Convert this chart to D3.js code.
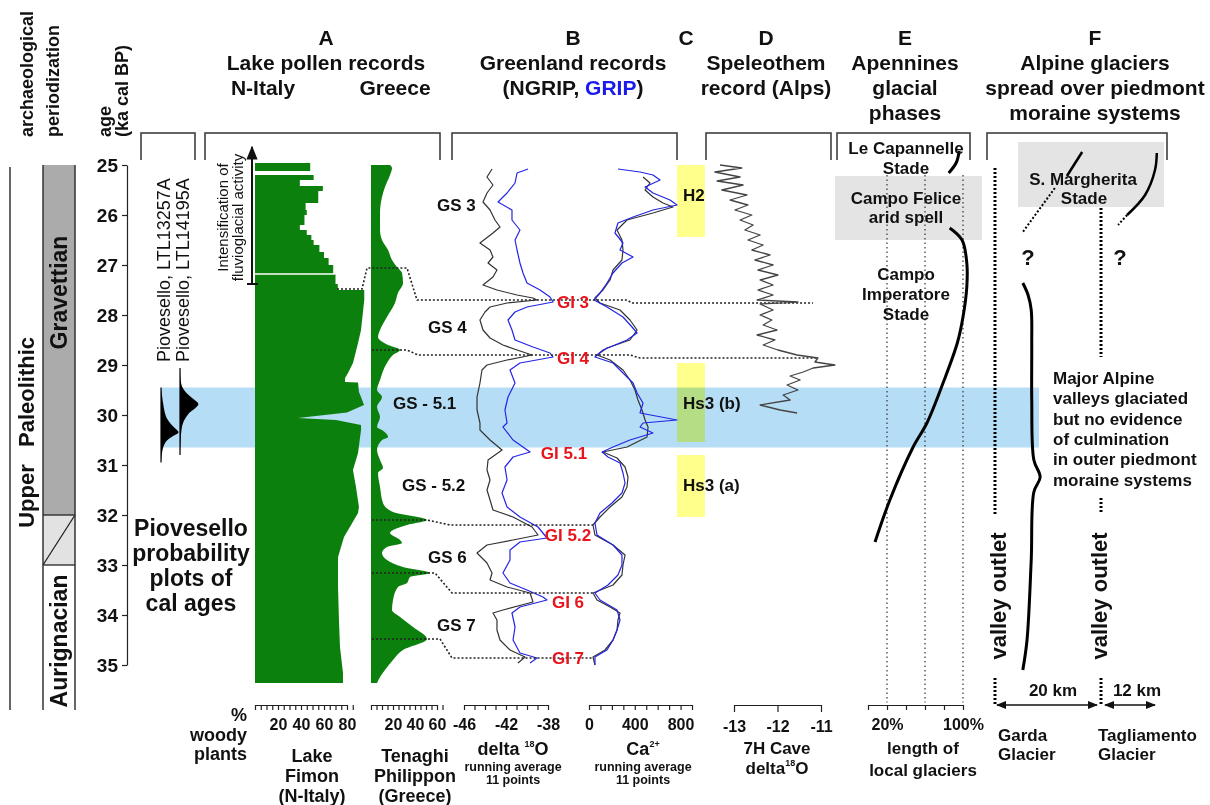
<!DOCTYPE html>
<html>
<head>
<meta charset="utf-8">
<title>Gravettian glaciers and climate records</title>
<script src="https://cdn.jsdelivr.net/npm/d3@7/dist/d3.min.js"></script>
<style>
  body { margin: 0; background: #fff; }
  svg { display: block; font-family: 'Liberation Sans', Arial, sans-serif; font-weight: bold; }
  .axis path, .axis line { stroke: #222; stroke-width: 1.2; }
  .axis text { font-family: 'Liberation Sans', Arial, sans-serif; font-size: 16px; font-weight: bold; fill: #111; }
</style>
</head>
<body>
<svg id="chart" width="1210" height="805"></svg>
<script>
'use strict';

// ---------- data (age in ka cal BP first) ----------
var ageTicks = [25, 26, 27, 28, 29, 30, 31, 32, 33, 34, 35];

// Lake Fimon % woody plants: stepped part, then continuous part
var fimonBars = [[24.96, 48], [25.12, 0], [25.2, 51], [25.3, 39], [25.42, 59], [25.52, 55], [25.76, 44],
    [25.9, 45], [26.0, 43], [26.2, 39], [26.3, 45], [26.4, 49], [26.5, 51], [26.6, 56], [26.74, 60],
    [26.86, 64], [27.0, 68], [27.18, 70], [27.38, 72]];
var fimonCurve = [[27.5, 95], [27.7, 95], [28.3, 92.2], [28.56, 89.6], [28.96, 85.2], [29.16, 80.9],
    [29.26, 78.3], [29.34, 78.3], [29.35, 89.6], [29.54, 90.4], [29.64, 92.2], [29.8, 94.8], [29.95, 80],
    [30.06, 37.4], [30.1, 70.4], [30.2, 92.2], [30.3, 92.2], [30.76, 89.6], [31.1, 85.2], [31.44, 87.8],
    [31.84, 90.4], [31.96, 89.6], [32.44, 77.4], [32.84, 72.2], [33.44, 72.2], [34.1, 73], [34.64, 73.9],
    [35.16, 76.5], [35.36, 76.5]];

// Tenaghi Philippon % woody plants
var tenaghi = [[25.0, 17.3], [25.06, 19.1], [25.2, 17.3], [25.44, 12.7], [25.64, 10], [25.96, 8.2],
    [26.3, 8.2], [26.5, 10], [26.7, 15.5], [26.9, 19.1], [27.04, 23.6], [27.16, 28.2], [27.36, 29.1],
    [27.56, 24.5], [27.76, 21.8], [28.04, 14.5], [28.3, 8.2], [28.44, 6.4], [28.6, 15.5], [28.7, 26.4],
    [28.8, 20], [28.96, 14.5], [29.3, 8.2], [29.5, 5.5], [29.64, 10], [29.84, 5.5], [30.04, 8.2],
    [30.24, 5.5], [30.3, 10], [30.44, 15.5], [30.5, 10], [30.7, 5.5], [30.9, 8.2], [31.06, 10.9],
    [31.16, 6.4], [31.44, 8.2], [31.76, 10.9], [31.94, 20], [32.1, 50.9], [32.2, 32.7], [32.36, 17.3],
    [32.5, 26.4], [32.56, 28.2], [32.64, 14.5], [32.76, 10], [32.9, 14.5], [33.04, 29.1], [33.16, 53.6],
    [33.24, 35.5], [33.36, 32.7], [33.44, 24.5], [33.7, 20], [33.9, 19.1], [34.04, 26.4], [34.24, 38.2],
    [34.48, 50.9], [34.7, 29.1], [34.9, 20], [35.1, 12.7], [35.24, 8.2], [35.36, 5.5]];

// Greenland delta18O (permil), running average 11 points
var ngripD18O = [[25.08, -43.33], [25.24, -43.81], [25.4, -43.24], [25.56, -43.81], [25.74, -44.19],
    [25.9, -43.52], [26.1, -43.05], [26.24, -42.57], [26.36, -43.24], [26.56, -44.48], [26.7, -43.52],
    [26.84, -43.24], [26.96, -43.71], [27.1, -42.86], [27.24, -43.24], [27.4, -44.19], [27.5, -42.86],
    [27.6, -40.95], [27.66, -39.43], [27.7, -39.05], [27.76, -41.9], [27.84, -43.52], [27.94, -44.0],
    [28.1, -44.48], [28.3, -44.19], [28.46, -43.52], [28.6, -42.29], [28.7, -40.95], [28.8, -39.52],
    [28.9, -41.9], [29.0, -43.81], [29.1, -44.29], [29.36, -44.48], [29.64, -44.76], [29.9, -44.76],
    [30.16, -44.48], [30.3, -44.48], [30.5, -43.52], [30.7, -42.38], [30.9, -43.71], [31.1, -43.81],
    [31.3, -43.52], [31.5, -43.81], [31.7, -43.52], [31.9, -43.24], [32.04, -41.33], [32.24, -39.52],
    [32.4, -38.95], [32.5, -41.33], [32.6, -43.81], [32.76, -44.76], [32.96, -43.81], [33.16, -43.33],
    [33.3, -43.52], [33.44, -41.9], [33.56, -39.71], [33.74, -39.43], [33.9, -42.29], [33.96, -43.24],
    [34.1, -42.86], [34.3, -42.86], [34.5, -42.57], [34.7, -41.62], [34.84, -40.19], [34.96, -40.86]];
var gripD18O = [[25.08, -39.9], [25.16, -40.95], [25.36, -41.14], [25.56, -41.9], [25.74, -42.76],
    [25.9, -41.43], [26.1, -41.43], [26.3, -40.67], [26.5, -41.14], [26.7, -40.95], [26.96, -40.67],
    [27.16, -40.38], [27.36, -40.0], [27.5, -38.76], [27.64, -37.81], [27.74, -37.52], [27.84, -40.0],
    [27.94, -41.14], [28.1, -41.81], [28.3, -41.43], [28.5, -41.14], [28.64, -39.43], [28.76, -37.81],
    [28.84, -37.52], [28.96, -40.67], [29.1, -41.62], [29.36, -41.14], [29.64, -41.81], [29.9, -42.1],
    [30.16, -41.9], [30.24, -42.29], [30.5, -41.33], [30.74, -39.71], [30.84, -41.33], [31.04, -42.1],
    [31.3, -41.9], [31.56, -42.38], [31.84, -41.9], [32.04, -40.67], [32.24, -38.95], [32.46, -38.1],
    [32.54, -40.67], [32.7, -41.62], [32.9, -41.62], [33.16, -42.29], [33.36, -41.62], [33.5, -40.0],
    [33.64, -38.48], [33.7, -38.1], [33.84, -40.67], [33.96, -41.43], [34.24, -41.14], [34.5, -41.33],
    [34.76, -40.67], [34.86, -39.05], [34.96, -39.71]];

// Greenland Ca2+ (ppb), running average 11 points
var ngripCa = [[25.24, 472], [25.36, 533], [25.5, 490], [25.64, 559], [25.76, 647], [25.84, 734],
    [25.96, 559], [26.1, 332], [26.3, 245], [26.5, 288], [26.7, 297], [26.9, 288], [27.1, 210],
    [27.3, 184], [27.5, 122], [27.66, 52], [27.76, 96], [27.9, 271], [28.1, 358], [28.3, 420],
    [28.5, 358], [28.66, 157], [28.8, 70], [28.9, 184], [29.1, 297], [29.3, 358], [29.5, 402],
    [29.7, 428], [29.9, 463], [30.1, 490], [30.24, 516], [30.44, 507], [30.64, 332], [30.74, 122],
    [30.86, 245], [31.04, 315], [31.24, 341], [31.44, 332], [31.64, 288], [31.84, 184], [32.04, 96],
    [32.2, 35], [32.4, 52], [32.6, 210], [32.8, 315], [33.0, 297], [33.2, 288], [33.4, 210],
    [33.56, 35], [33.7, 70], [33.84, 184], [33.96, 271], [34.1, 253], [34.3, 245], [34.5, 210],
    [34.7, 140], [34.84, 35], [35.0, 52]];
var gripCa = [[25.08, 253], [25.14, 446], [25.2, 559], [25.3, 621], [25.44, 490], [25.56, 559],
    [25.7, 708], [25.8, 769], [25.9, 559], [26.04, 385], [26.16, 253], [26.36, 227], [26.56, 297],
    [26.7, 271], [26.84, 385], [26.96, 288], [27.16, 210], [27.36, 157], [27.56, 96], [27.7, 44],
    [27.84, 157], [28.04, 297], [28.24, 376], [28.36, 420], [28.5, 332], [28.7, 122], [28.84, 52],
    [28.96, 210], [29.16, 297], [29.36, 385], [29.56, 420], [29.76, 472], [29.96, 446], [30.1, 769],
    [30.16, 472], [30.24, 446], [30.36, 559], [30.5, 358], [30.64, 210], [30.74, 114], [30.84, 166],
    [30.96, 271], [31.16, 297], [31.36, 315], [31.56, 288], [31.76, 201], [31.96, 96], [32.16, 52],
    [32.4, 70], [32.6, 210], [32.8, 288], [33.0, 288], [33.2, 253], [33.4, 166], [33.56, 52],
    [33.7, 96], [33.9, 245], [34.1, 271], [34.3, 245], [34.5, 210], [34.7, 157], [34.84, 52], [35.0, 52]];

// 7H Cave speleothem delta18O (permil)
var cave7H = [[25.0, -13.32], [25.06, -12.82], [25.14, -13.44], [25.24, -12.86], [25.32, -13.39],
    [25.4, -12.79], [25.5, -13.28], [25.6, -12.7], [25.7, -13.09], [25.8, -12.68], [25.9, -12.98],
    [26.0, -12.59], [26.1, -12.86], [26.2, -12.56], [26.3, -12.75], [26.4, -12.4], [26.5, -12.68],
    [26.6, -12.33], [26.7, -12.59], [26.8, -12.17], [26.9, -12.52], [27.0, -12.1], [27.1, -12.45],
    [27.2, -11.99], [27.3, -12.4], [27.4, -12.1], [27.5, -12.45], [27.6, -12.1], [27.7, -12.47],
    [27.74, -11.53], [27.78, -12.4], [27.9, -12.1], [28.0, -12.4], [28.1, -12.13], [28.2, -12.33],
    [28.3, -12.01], [28.4, -12.47], [28.5, -12.06], [28.6, -12.33], [28.7, -11.99], [28.8, -11.55],
    [28.86, -11.07], [28.94, -11.14], [29.0, -10.68], [29.06, -11.18], [29.14, -11.41], [29.22, -11.71],
    [29.3, -11.48], [29.4, -11.78], [29.5, -11.53], [29.6, -11.87], [29.7, -11.71], [29.8, -12.4],
    [29.9, -11.94], [29.96, -11.55]];

// Apennines: length of local glaciers (%)
var apennineGlacier = [[26.26, 86], [26.5, 99], [26.96, 104], [27.44, 104], [28.04, 100], [28.56, 94],
    [29.36, 79], [30.16, 62], [30.66, 47], [31.7, 23], [32.54, 7.4]];
var capannelleGlacier = [[24.72, 96], [24.95, 93], [25.16, 85]];

// Alpine glaciers: extent beyond valley outlet (km)
var gardaStade = [[24.74, 16.6], [25.22, 13.7]];
var gardaStadeUncertain = [[25.46, 11.4], [26.34, 5.3]];
var gardaGlaciated = [[27.36, 5.3], [27.6, 6.3], [27.9, 6.9], [28.6, 7.0], [29.7, 7.0], [30.9, 7.4],
    [31.24, 8.6], [31.54, 7.4], [32.9, 6.9], [34.5, 6.1], [35.1, 5.3]];
var tagliamentoStade = [[24.76, 12.4], [25.1, 12.0], [25.6, 9.8], [26.0, 5.8]];
var tagliamentoStadeUncertain = [[26.0, 5.8], [26.2, 3.8]];
var gardaOutlet = [[25.06, 32.0], [35.26, 35.8]];
var tagliamentoOutlet = [[25.86, 28.84], [31.66, 31.96], [35.26, 35.8]];

// Piovesello calibrated age probability (relative)
var prob13257 = [[29.45, 0], [29.6, 0.05], [29.8, 0.12], [30.0, 0.22], [30.1, 0.35], [30.2, 0.55],
    [30.3, 0.85], [30.36, 1.0], [30.42, 0.6], [30.5, 0.3], [30.6, 0.15], [30.7, 0.07], [30.85, 0.02], [30.95, 0]];
var prob14195 = [[29.06, 0], [29.3, 0.02], [29.45, 0.1], [29.55, 0.3], [29.65, 0.6], [29.75, 0.95],
    [29.8, 1.0], [29.88, 0.75], [29.95, 0.5], [30.0, 0.4], [30.1, 0.2], [30.25, 0.08], [30.5, 0.03], [30.8, 0]];

// events
var heinrich = [{ name: 'H2', from: 25.0, to: 26.44 }, { name: 'Hs3 (b)', from: 28.96, to: 30.54 },
    { name: 'Hs3 (a)', from: 30.8, to: 32.04 }];
var coldBand = [29.45, 30.65];
var stadials = [{ name: 'GS 3', age: 25.8 }, { name: 'GS 4', age: 28.24 }, { name: 'GS - 5.1', age: 29.76 },
    { name: 'GS - 5.2', age: 31.4 }, { name: 'GS 6', age: 32.84 }, { name: 'GS 7', age: 34.2 }];
var interstadials = [{ name: 'GI 3', age: 27.74 }, { name: 'GI 4', age: 28.86 }, { name: 'GI 5.1', age: 30.76 },
    { name: 'GI 5.2', age: 32.4 }, { name: 'GI 6', age: 33.74 }, { name: 'GI 7', age: 34.86 }];
var cultures = [{ name: 'Gravettian', from: 25, to: 32, fill: '#ababab' },
    { name: '', from: 32, to: 33, fill: '#e2e2e2' }, { name: 'Aurignacian', from: 33, to: 35.9, fill: '#fff' }];

// ---------- layout ----------
var W = 1210, H = 805;
var svg = d3.select('#chart');
svg.append('rect').attr('width', W).attr('height', H).attr('fill', '#fff');

var y = d3.scaleLinear().domain([25, 35]).range([165, 665]);
var xFimon = d3.scaleLinear().domain([0, 80]).range([255, 347]);
var xTenaghi = d3.scaleLinear().domain([0, 60]).range([371, 437]);
var xD18O = d3.scaleLinear().domain([-46, -38]).range([464, 548]);
var xCa = d3.scaleLinear().domain([0, 900]).range([589, 692]);
var xCave = d3.scaleLinear().domain([-13, -11]).range([734, 821]);
var xGlac = d3.scaleLinear().domain([0, 100]).range([868, 963]);
var xGarda = d3.scaleLinear().domain([0, 20]).range([995, 1100]);
var xTagl = d3.scaleLinear().domain([0, 12]).range([1101, 1155]);
var xProb = d3.scaleLinear().domain([0, 1]).range([0, 19]);

function label(g, x, yy, s, size, anchor, fill) {
    return g.append('text').attr('x', x).attr('y', yy).attr('font-size', size)
        .attr('text-anchor', anchor || 'middle').attr('fill', fill || '#111').text(s);
}
function vlabel(g, x, yy, s, size, anchor, weight) {
    return g.append('text').attr('transform', 'translate(' + x + ',' + yy + ') rotate(-90)')
        .attr('font-size', size).attr('text-anchor', anchor || 'middle')
        .attr('font-weight', weight || 'bold').attr('fill', '#111').text(s);
}

var defs = svg.append('defs');
defs.append('marker').attr('id', 'head').attr('viewBox', '0 0 10 10').attr('refX', 9).attr('refY', 5)
    .attr('markerWidth', 7).attr('markerHeight', 7).attr('orient', 'auto-start-reverse')
    .append('path').attr('d', 'M0,1L10,5L0,9Z').attr('fill', '#111');

// ---------- backgrounds ----------
var bg = svg.append('g');
bg.append('rect').attr('x', 161).attr('width', 1039 - 161).attr('y', y(coldBand[0]))
    .attr('height', y(coldBand[1]) - y(coldBand[0])).attr('fill', '#b5ddf5');
bg.selectAll('rect.h').data(heinrich).enter().append('rect').attr('class', 'h')
    .attr('x', 677).attr('width', 28).attr('y', function (d) { return y(d.from); })
    .attr('height', function (d) { return y(d.to) - y(d.from); })
    .attr('fill', '#ffff8c').style('mix-blend-mode', 'multiply');
bg.append('rect').attr('x', 835).attr('y', y(25.22)).attr('width', 147).attr('height', y(26.5) - y(25.22)).attr('fill', '#e4e4e4');
bg.append('rect').attr('x', 1018).attr('y', y(24.54)).attr('width', 146).attr('height', y(25.84) - y(24.54)).attr('fill', '#e4e4e4');

// ---------- header ----------
var head = svg.append('g').attr('font-size', 21);
[[141, 195], [205, 440], [452, 677], [706, 831], [837, 970], [987, 1167]].forEach(function (b) {
    head.append('path').attr('d', 'M' + b[0] + ',160V133H' + b[1] + 'V160')
        .attr('fill', 'none').attr('stroke', '#333').attr('stroke-width', 1.5);
});
var headers = [
    { x: 326, lines: ['A', 'Lake pollen records'] },
    { x: 573, lines: ['B', 'Greenland records'] },
    { x: 686, lines: ['C'] },
    { x: 766, lines: ['D', 'Speleothem', 'record (Alps)'] },
    { x: 905, lines: ['E', 'Apennines', 'glacial', 'phases'] },
    { x: 1095, lines: ['F', 'Alpine glaciers', 'spread over piedmont', 'moraine systems'] }
];
headers.forEach(function (h) {
    h.lines.forEach(function (s, i) { label(head, h.x, 45 + i * 25, s, 21); });
});
label(head, 263, 95, 'N-Italy', 21);
label(head, 395, 95, 'Greece', 21);
var ng = label(head, 573, 95, '(NGRIP, ', 21);
ng.append('tspan').attr('fill', '#1a1aee').text('GRIP');
ng.append('tspan').text(')');

// ---------- archaeological periodization + age axis ----------
var arch = svg.append('g');
vlabel(arch, 33, 137, 'archaeological', 18, 'start');
vlabel(arch, 59, 137, 'periodization', 18, 'start');
vlabel(arch, 111, 137, 'age', 18, 'start');
vlabel(arch, 128, 137, '(ka cal BP)', 18, 'start');
arch.append('line').attr('x1', 10).attr('x2', 10).attr('y1', 167).attr('y2', 710).attr('stroke', '#333').attr('stroke-width', 1.5);
vlabel(arch, 34, 392, 'Paleolithic', 22);
vlabel(arch, 34, 496, 'Upper', 22);
arch.selectAll('rect.c').data(cultures).enter().append('rect').attr('class', 'c')
    .attr('x', 43).attr('width', 32).attr('y', function (d) { return y(d.from); })
    .attr('height', function (d) { return Math.min(y(d.to), 710) - y(d.from); })
    .attr('fill', function (d) { return d.fill; });
arch.append('line').attr('x1', 75).attr('y1', y(32)).attr('x2', 43).attr('y2', y(33)).attr('stroke', '#222').attr('stroke-width', 1.3);
[32, 33].forEach(function (a) {
    arch.append('line').attr('x1', 43).attr('x2', 75).attr('y1', y(a)).attr('y2', y(a)).attr('stroke', '#222').attr('stroke-width', 1.3);
});
[43, 75].forEach(function (x) {
    arch.append('line').attr('x1', x).attr('x2', x).attr('y1', 165).attr('y2', 710).attr('stroke', '#333').attr('stroke-width', 1.5);
});
vlabel(arch, 67, y(27.55), 'Gravettian', 23);
vlabel(arch, 67, y(34.52), 'Aurignacian', 23);

var ageAxis = svg.append('g').attr('class', 'axis').attr('transform', 'translate(127,0)')
    .call(d3.axisLeft(y).tickValues(ageTicks).tickSize(5).tickSizeOuter(0).tickPadding(4));
ageAxis.selectAll('text').style('font-size', '19px');

// ---------- Piovesello probability plots ----------
var piov = svg.append('g');
[[161, prob13257, 'Piovesello, LTL13257A'], [180, prob14195, 'Piovesello, LTL14195A']].forEach(function (p) {
    var base = p[0];
    piov.append('path').datum(p[1]).attr('fill', '#000')
        .attr('d', d3.area().curve(d3.curveBasis).y(function (d) { return y(d[0]); })
            .x0(base).x1(function (d) { return base + xProb(d[1]); }));
    piov.append('line').attr('x1', base).attr('x2', base).attr('y1', y(p[1][0][0])).attr('y2', y(p[1][p[1].length - 1][0]))
        .attr('stroke', '#000').attr('stroke-width', 1.2);
    vlabel(piov, base + 9, 362, p[2], 18, 'start', 'normal');
});
['Piovesello', 'probability', 'plots of', 'cal ages'].forEach(function (s, i) {
    label(piov, 191, 536 + i * 25, s, 23);
});

// ---------- pollen ----------
var green = '#0c800c';
var pollen = svg.append('g');
pollen.selectAll('rect.fb').data(fimonBars).enter().append('rect').attr('class', 'fb')
    .attr('x', xFimon(0)).attr('y', function (d) { return y(d[0]); })
    .attr('width', function (d) { return xFimon(d[1]) - xFimon(0); })
    .attr('height', function (d, i) {
        var next = i < fimonBars.length - 1 ? fimonBars[i + 1][0] : fimonCurve[0][0];
        return y(next) - y(d[0]);
    })
    .attr('fill', green);
pollen.append('path').datum(fimonCurve).attr('fill', green)
    .attr('d', d3.area().y(function (d) { return y(d[0]); }).x0(xFimon(0)).x1(function (d) { return xFimon(d[1]); }));
pollen.append('path').datum(tenaghi).attr('fill', green)
    .attr('d', d3.area().curve(d3.curveMonotoneY).y(function (d) { return y(d[0]); })
        .x0(xTenaghi(0)).x1(function (d) { return xTenaghi(d[1]); }));

// fluvioglacial arrow
pollen.append('line').attr('x1', xFimon(0)).attr('x2', xFimon(70)).attr('y1', y(27.18)).attr('y2', y(27.18))
    .attr('stroke', '#fff').attr('stroke-width', 1.5);
pollen.append('line').attr('x1', 252).attr('x2', 252).attr('y1', y(27.38)).attr('y2', y(24.64))
    .attr('stroke', '#111').attr('stroke-width', 2).attr('marker-end', 'url(#head)');
pollen.append('line').attr('x1', 247).attr('x2', 258).attr('y1', y(27.38)).attr('y2', y(27.38))
    .attr('stroke', '#111').attr('stroke-width', 2);
vlabel(pollen, 228, y(26.05), 'Intensification of', 15, 'middle', 'normal');
vlabel(pollen, 243, y(26.05), 'fluvioglacial activity', 15, 'middle', 'normal');

// ---------- Greenland ----------
var green2 = svg.append('g');
function curve(g, data, xs, color, w) {
    g.append('path').datum(data).attr('fill', 'none').attr('stroke', color).attr('stroke-width', w)
        .attr('stroke-linejoin', 'round')
        .attr('d', d3.line().x(function (d) { return xs(d[1]); }).y(function (d) { return y(d[0]); }));
}
curve(green2, ngripD18O, xD18O, '#333', 1.2);
curve(green2, gripD18O, xD18O, '#2424e6', 1.2);
curve(green2, ngripCa, xCa, '#333', 1.2);
curve(green2, gripCa, xCa, '#2424e6', 1.2);

// correlation lines (dotted)
var links = svg.append('g').attr('fill', 'none').attr('stroke', '#222').attr('stroke-width', 1.6).attr('stroke-dasharray', '2,2');
var linkPaths = [
    [[337, 27.48], [362, 27.48], [367, 27.06], [407, 27.06], [417, 27.7], [627, 27.7], [632, 27.76], [813, 27.76]],
    [[372, 28.7], [407, 28.7], [418, 28.8], [630, 28.8], [640, 28.86], [817, 28.86]],
    [[372, 32.1], [427, 32.1], [450, 32.2], [593, 32.2]],
    [[372, 33.16], [435, 33.16], [452, 33.56], [593, 33.56]],
    [[372, 34.48], [440, 34.48], [452, 34.86], [593, 34.86]]
];
linkPaths.forEach(function (p) {
    links.append('path').attr('d', d3.line().x(function (d) { return d[0]; }).y(function (d) { return y(d[1]); })(p));
});

var gsX = { 'GS 3': 437, 'GS 4': 428, 'GS - 5.1': 393, 'GS - 5.2': 402, 'GS 6': 428, 'GS 7': 437 };
stadials.forEach(function (s) { label(svg, gsX[s.name], y(s.age) + 6, s.name, 17, 'start'); });
var giX = { 'GI 3': 573, 'GI 4': 573, 'GI 5.1': 564, 'GI 5.2': 568, 'GI 6': 568, 'GI 7': 568 };
interstadials.forEach(function (s) { label(svg, giX[s.name], y(s.age) + 6, s.name, 17, 'middle', '#e8141b'); });
var hsY = { 'H2': 25.6, 'Hs3 (b)': 29.76, 'Hs3 (a)': 31.4 };
heinrich.forEach(function (h) { label(svg, 683, y(hsY[h.name]) + 6, h.name, 17, 'start'); });

// ---------- speleothem ----------
curve(svg, cave7H, xCave, '#444', 1.3);

// ---------- Apennines ----------
var ap = svg.append('g');
[20, 60, 100].forEach(function (v) {
    ap.append('line').attr('x1', xGlac(v)).attr('x2', xGlac(v)).attr('y1', y(25.2)).attr('y2', y(35.75))
        .attr('stroke', '#333').attr('stroke-width', 1.2).attr('stroke-dasharray', '1.5,3');
});
var glacLine = d3.line().curve(d3.curveCatmullRom).x(function (d) { return xGlac(d[1]); }).y(function (d) { return y(d[0]); });
ap.append('path').datum(apennineGlacier).attr('d', glacLine).attr('fill', 'none').attr('stroke', '#000').attr('stroke-width', 3);
ap.append('path').datum(capannelleGlacier).attr('d', glacLine).attr('fill', 'none').attr('stroke', '#000').attr('stroke-width', 3);
[['Le Capannelle', 154], ['Stade', 174], ['Campo Felice', 204], ['arid spell', 223],
    ['Campo', 280], ['Imperatore', 300], ['Stade', 320]].forEach(function (t) { label(ap, 906, t[1], t[0], 17); });

// ---------- Alpine glaciers ----------
var al = svg.append('g').attr('fill', 'none');
function kmLine(data, xs, dashed, w) {
    al.append('path').datum(data).attr('stroke', '#000').attr('stroke-width', w)
        .attr('stroke-dasharray', dashed ? '2,2' : null)
        .attr('d', d3.line().curve(d3.curveCatmullRom).x(function (d) { return xs(d[1]); }).y(function (d) { return y(d[0]); }));
}
gardaOutlet.forEach(function (s) { kmLine([[s[0], 0], [s[1], 0]], xGarda, true, 3); });
tagliamentoOutlet.forEach(function (s) { kmLine([[s[0], 0], [s[1], 0]], xTagl, true, 3); });
kmLine(gardaStade, xGarda, false, 2.5);
kmLine(gardaStadeUncertain, xGarda, true, 2);
kmLine(gardaGlaciated, xGarda, false, 3);
kmLine(tagliamentoStade, xTagl, false, 2.5);
kmLine(tagliamentoStadeUncertain, xTagl, true, 2);

al.append('line').attr('x1', xGarda(0) + 2).attr('x2', xGarda(20) - 3).attr('y1', 705).attr('y2', 705)
    .attr('stroke', '#111').attr('stroke-width', 1.5).attr('marker-start', 'url(#head)').attr('marker-end', 'url(#head)');
al.append('line').attr('x1', xTagl(0) + 4).attr('x2', xTagl(12)).attr('y1', 705).attr('y2', 705)
    .attr('stroke', '#111').attr('stroke-width', 1.5).attr('marker-start', 'url(#head)').attr('marker-end', 'url(#head)');

var alt = svg.append('g');
label(alt, 1083, 185, 'S. Margherita', 17);
label(alt, 1084, 204, 'Stade', 17);
label(alt, 1028, 265, '?', 22);
label(alt, 1120, 265, '?', 22);
['Major Alpine', 'valleys glaciated', 'but no evidence', 'of culmination', 'in outer piedmont', 'moraine systems']
    .forEach(function (s, i) { label(alt, 1053, 384 + i * 20.3, s, 17, 'start'); });
vlabel(alt, 1006, 596, 'valley outlet', 22);
vlabel(alt, 1107, 596, 'valley outlet', 22);
label(alt, 1053, 696, '20 km', 17);
label(alt, 1137, 696, '12 km', 17);

// ---------- bottom axes ----------
function bottomAxis(scale, ticks, labels, size, fmt) {
    var g = svg.append('g').attr('class', 'axis').attr('transform', 'translate(0,705)')
        .call(d3.axisBottom(scale).tickValues(ticks).tickSize(size).tickSizeOuter(0).tickPadding(9)
            .tickFormat(function (d) { return labels.indexOf(d) >= 0 ? (fmt ? fmt(d) : d) : ''; }));
    return g;
}
bottomAxis(xFimon, d3.range(0, 86, 5), [20, 40, 60, 80], 5);
bottomAxis(xTenaghi, d3.range(0, 66, 5), [20, 40, 60], 5);
bottomAxis(xD18O, d3.range(-46, -37, 1), [-46, -42, -38], 5);
bottomAxis(xCa, d3.range(0, 901, 100), [0, 400, 800], 5);
bottomAxis(xCave, [-13, -12, -11], [-13, -12, -11], 7);
bottomAxis(xGlac, [0, 20, 40, 60, 80, 100], [20, 100], 5, function (d) { return d + '%'; });

var bl = svg.append('g');
label(bl, 247, 721, '%', 18, 'end');
label(bl, 247, 741, 'woody', 18, 'end');
label(bl, 247, 760, 'plants', 18, 'end');
['Lake', 'Fimon', '(N-Italy)'].forEach(function (s, i) { label(bl, 312, 762 + i * 20, s, 18); });
['Tenaghi', 'Philippon', '(Greece)'].forEach(function (s, i) { label(bl, 415, 762 + i * 20, s, 18); });
function sup(g, x, yy, pre, sp, post) {
    var t = label(g, x, yy, pre, 18);
    t.append('tspan').attr('font-size', 9).attr('dy', -8).text(sp);
    t.append('tspan').attr('dy', 8).text(post);
    return t;
}
sup(bl, 513, 755, 'delta ', '18', 'O');
sup(bl, 643, 755, 'Ca', '2+', '');
[513, 643].forEach(function (x) {
    label(bl, x, 771, 'running average', 12.5);
    label(bl, x, 784, '11 points', 12.5);
});
label(bl, 777, 754, '7H Cave', 17);
sup(bl, 777, 774, 'delta', '18', 'O').attr('font-size', 17);
label(bl, 923, 754, 'length of', 17);
label(bl, 923, 776, 'local glaciers', 17);
label(bl, 998, 741, 'Garda', 17, 'start');
label(bl, 998, 760, 'Glacier', 17, 'start');
label(bl, 1098, 741, 'Tagliamento', 17, 'start');
label(bl, 1098, 760, 'Glacier', 17, 'start');
</script>
</body>
</html>
